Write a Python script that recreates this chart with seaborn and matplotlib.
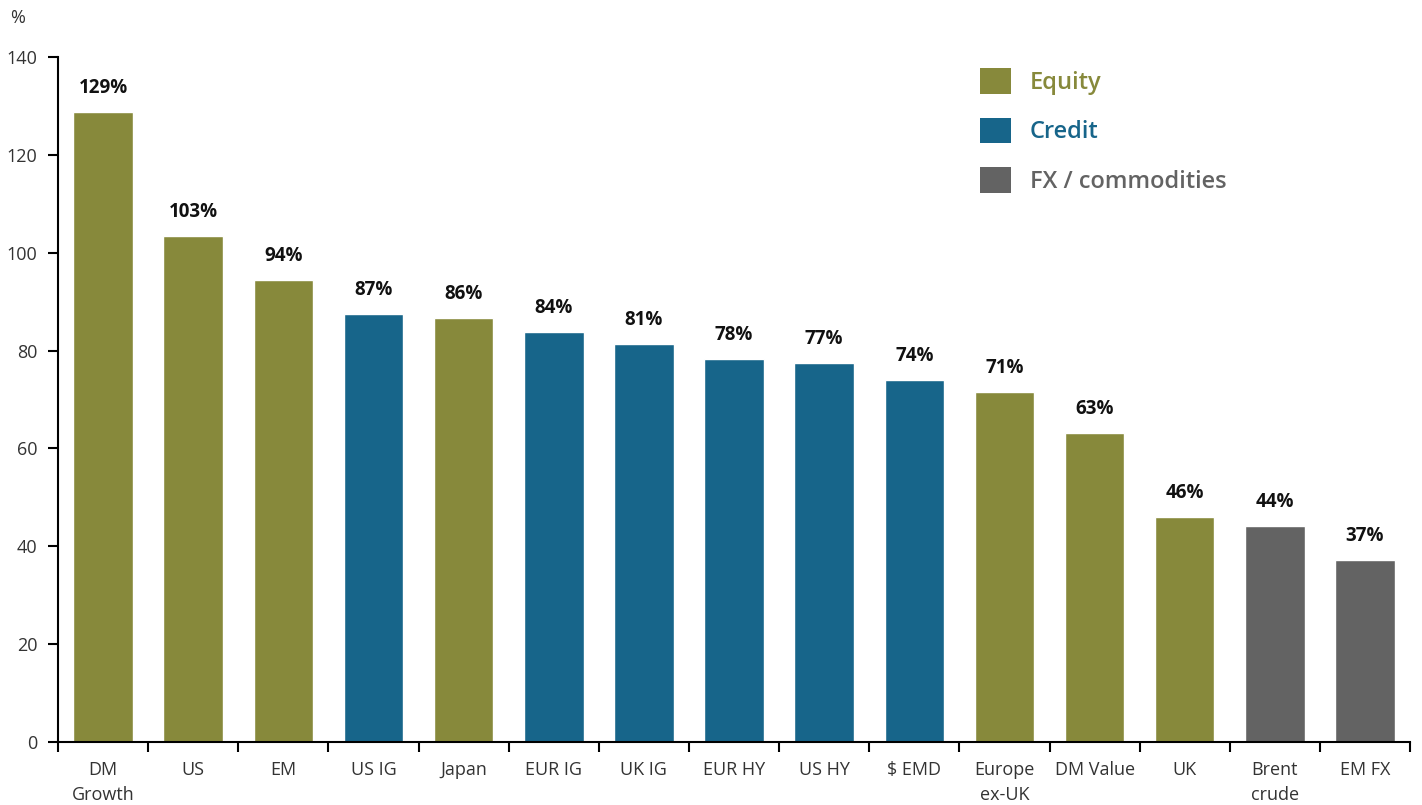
import matplotlib
matplotlib.use("Agg")
import matplotlib.pyplot as plt
import seaborn as sns
import pandas as pd
from matplotlib.patches import Patch

categories = ["DM\nGrowth", "US", "EM", "US IG", "Japan", "EUR IG", "UK IG", "EUR HY",
              "US HY", "$ EMD", "Europe\nex-UK", "DM Value", "UK", "Brent\ncrude", "EM FX"]
values = [128.8, 103.4, 94.5, 87.4, 86.6, 83.8, 81.4, 78.3, 77.4, 74.0, 71.5, 63.2, 46.0, 44.2, 37.2]
labels = ["129%", "103%", "94%", "87%", "86%", "84%", "81%", "78%", "77%", "74%",
          "71%", "63%", "46%", "44%", "37%"]
groups = ["Equity", "Equity", "Equity", "Credit", "Equity", "Credit", "Credit", "Credit",
          "Credit", "Credit", "Equity", "Equity", "Equity", "FX / commodities", "FX / commodities"]

palette = {"Equity": "#87893B", "Credit": "#17658A", "FX / commodities": "#636363"}

df = pd.DataFrame({"cat": categories, "val": values, "grp": groups})

sns.set_style("white")
plt.rcParams["font.family"] = ["Open Sans", "DejaVu Sans"]

fig = plt.figure(figsize=(14.22, 8.05), dpi=100)
ax = fig.add_axes([0.0408, 0.0783, 0.9508, 0.8509])

sns.barplot(data=df, x="cat", y="val", hue="grp", palette=palette, dodge=False,
            width=0.66, saturation=1, ax=ax, legend=False)

for i, (v, lab) in enumerate(zip(values, labels)):
    ax.annotate(lab, (i, v), xytext=(0, 10), textcoords="offset points",
                ha="center", va="bottom", fontsize=13.5, fontweight="bold", color="#111111")

ax.set_ylim(0, 140)
ax.set_xlim(-0.5, len(categories) - 0.5)
ax.set_yticks(range(0, 141, 20))
ax.set_xlabel("")
ax.set_ylabel("")

# category labels centred, tick marks on the boundaries
ax.set_xticks(range(len(categories)))
ax.set_xticklabels(categories, fontsize=13, color="#333333", linespacing=1.5)
ax.set_xticks([x - 0.5 for x in range(len(categories) + 1)], minor=True)
ax.tick_params(axis="x", which="major", bottom=True, length=0, pad=14)
ax.tick_params(axis="x", which="minor", bottom=True, length=7, width=1.5,
               color="black", direction="out")
ax.tick_params(axis="y", left=True, length=7, width=1.5, color="black", direction="out",
               labelsize=13, labelcolor="#333333", pad=8)

for side in ["top", "right"]:
    ax.spines[side].set_visible(False)
for side in ["left", "bottom"]:
    ax.spines[side].set_linewidth(1.5)
    ax.spines[side].set_color("black")

fig.text(0.007, 0.978, "%", fontsize=13, color="#333333", ha="left", va="center")

handles = [Patch(facecolor=c, edgecolor="none") for c in palette.values()]
leg = ax.legend(handles, list(palette.keys()), loc="upper left", bbox_to_anchor=(0.675, 0.997),
                frameon=False, fontsize=17, handlelength=1.3, handleheight=1.3,
                handletextpad=0.8, labelspacing=0.95, borderaxespad=0)
for txt, c in zip(leg.get_texts(), palette.values()):
    txt.set_color(c)
    txt.set_fontweight("semibold")

fig.savefig("out.png", dpi=100)
